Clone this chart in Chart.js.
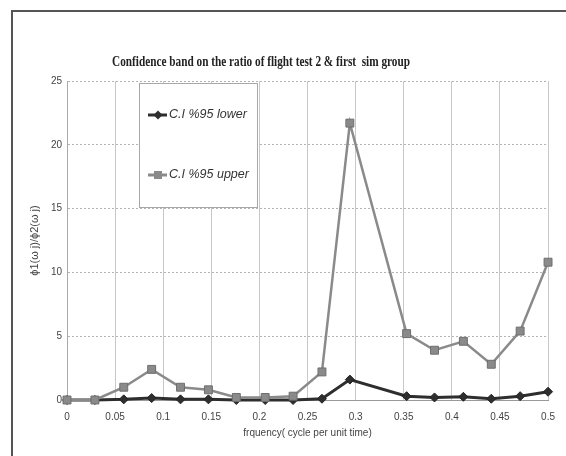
<!DOCTYPE html>
<html>
<head>
<meta charset="utf-8">
<script src="https://cdn.jsdelivr.net/npm/chart.js@4/dist/chart.umd.min.js"></script>
<style>
  html, body { margin: 0; padding: 0; background: #fff; }
  #wrap { width: 566px; height: 456px; }
</style>
</head>
<body>
<div id="wrap"><canvas id="chart" width="566" height="456"></canvas></div>
<script>
// values
const freq = [0, 0.029, 0.059, 0.088, 0.118, 0.147, 0.176, 0.206, 0.235, 0.265, 0.294,
              0.353, 0.382, 0.412, 0.441, 0.471, 0.5];
const lower = [0, 0, 0.05, 0.15, 0.05, 0.05, 0, 0, 0, 0.1, 1.6,
               0.3, 0.2, 0.25, 0.1, 0.3, 0.65];
const upper = [0, 0, 1.0, 2.4, 1.0, 0.8, 0.2, 0.2, 0.3, 2.2, 21.7,
               5.2, 3.9, 4.6, 2.8, 5.4, 10.8];
const seriesNames = ['C.I %95 lower', 'C.I %95 upper'];
const titleText = 'Confidence band on the ratio of flight test 2 & first  sim group';

const LOWER_COLOR = '#2e2e2e';
const UPPER_COLOR = '#8a8a8a';

function toPoints(xs, ys) {
    return xs.map((x, i) => ({x: x, y: ys[i]}));
}

// frame, title and the boxed legend inside the plot
const decor = {
    id: 'decor',
    beforeDraw(chart) {
        const ctx = chart.ctx;
        ctx.save();
        ctx.strokeStyle = '#555';
        ctx.lineWidth = 2;
        ctx.beginPath();
        ctx.moveTo(12, 456);
        ctx.lineTo(12, 11);
        ctx.lineTo(566, 11);
        ctx.stroke();
        ctx.restore();
    },
    afterDraw(chart) {
        const ctx = chart.ctx;
        const area = chart.chartArea;

        // title, slightly condensed like the original
        ctx.save();
        ctx.font = 'bold 15px "Liberation Serif"';
        ctx.fillStyle = '#222';
        ctx.textBaseline = 'middle';
        ctx.textAlign = 'center';
        const w = ctx.measureText(titleText).width;
        const sx = 298 / w;
        ctx.translate(261, 62);
        ctx.scale(sx, 1);
        ctx.fillText(titleText, 0, 0);
        ctx.restore();

        // legend box
        const bx = area.left + 72, by = area.top + 2, bw = 118, bh = 124;
        ctx.save();
        ctx.fillStyle = '#fff';
        ctx.fillRect(bx, by, bw, bh);
        ctx.strokeStyle = '#a8a8a8';
        ctx.lineWidth = 1;
        ctx.strokeRect(bx + 0.5, by + 0.5, bw, bh);

        const rows = [
            {y: by + 32, color: LOWER_COLOR, shape: 'diamond', text: seriesNames[0]},
            {y: by + 92, color: UPPER_COLOR, shape: 'square', text: seriesNames[1]}
        ];
        rows.forEach(r => {
            ctx.strokeStyle = r.color;
            ctx.lineWidth = 3;
            ctx.beginPath();
            ctx.moveTo(bx + 9, r.y);
            ctx.lineTo(bx + 28, r.y);
            ctx.stroke();
            const cx = bx + 19;
            ctx.fillStyle = r.color;
            ctx.beginPath();
            if (r.shape === 'diamond') {
                ctx.moveTo(cx, r.y - 4.5);
                ctx.lineTo(cx + 4.5, r.y);
                ctx.lineTo(cx, r.y + 4.5);
                ctx.lineTo(cx - 4.5, r.y);
                ctx.closePath();
            } else {
                ctx.rect(cx - 4, r.y - 4, 8, 8);
            }
            ctx.fill();
            ctx.fillStyle = '#333';
            ctx.font = 'italic 12.5px "Liberation Sans"';
            ctx.textBaseline = 'middle';
            ctx.textAlign = 'left';
            ctx.fillText(r.text, bx + 30, r.y);
        });
        ctx.restore();
    }
};

new Chart(document.getElementById('chart'), {
    type: 'line',
    data: {
        datasets: [
            {
                label: seriesNames[0],
                data: toPoints(freq, lower),
                borderColor: LOWER_COLOR,
                backgroundColor: LOWER_COLOR,
                borderWidth: 3,
                pointStyle: 'rectRot',
                pointRadius: 4.5,
                pointBorderWidth: 1,
                pointBorderColor: '#222',
                order: 1,
                clip: false
            },
            {
                label: seriesNames[1],
                data: toPoints(freq, upper),
                borderColor: UPPER_COLOR,
                backgroundColor: UPPER_COLOR,
                borderWidth: 2.5,
                pointStyle: 'rect',
                pointRadius: 5.6,
                pointBorderWidth: 1,
                pointBorderColor: '#6e6e6e',
                order: 0,
                clip: false
            }
        ]
    },
    options: {
        responsive: false,
        animation: false,
        layout: {
            padding: {top: 81, right: 16, bottom: 0, left: 0}
        },
        plugins: {
            legend: {display: false},
            title: {display: false},
            tooltip: {enabled: false}
        },
        scales: {
            x: {
                type: 'linear',
                min: 0,
                max: 0.5,
                ticks: {
                    stepSize: 0.05,
                    padding: 11,
                    color: '#444',
                    font: {family: 'Liberation Sans', size: 10},
                    maxRotation: 0,
                    callback: v => String(parseFloat(v.toFixed(2)))
                },
                grid: {color: '#c8c8c8', lineWidth: 1, drawTicks: false},
                border: {color: '#9a9a9a', width: 1},
                title: {
                    display: true,
                    text: 'frquency( cycle per unit time)',
                    color: '#444',
                    font: {family: 'Liberation Sans', size: 10},
                    padding: {top: 0, bottom: 17}
                },
                afterFit(scale) { scale.height = 56; }
            },
            y: {
                min: 0,
                max: 25,
                ticks: {
                    stepSize: 5,
                    padding: 5,
                    color: '#444',
                    font: {family: 'Liberation Sans', size: 10}
                },
                grid: {color: '#b4b4b4', lineWidth: 1, drawTicks: false},
                border: {color: '#aaa', width: 1, dash: [2, 2]},
                title: {
                    display: true,
                    text: 'ϕ1(ω j)/ϕ2(ω j)',
                    color: '#444',
                    font: {family: 'Liberation Sans', size: 11},
                    padding: {top: 28, bottom: 0}
                },
                afterFit(scale) { scale.width = 67; }
            }
        }
    },
    plugins: [decor]
});
</script>
</body>
</html>
